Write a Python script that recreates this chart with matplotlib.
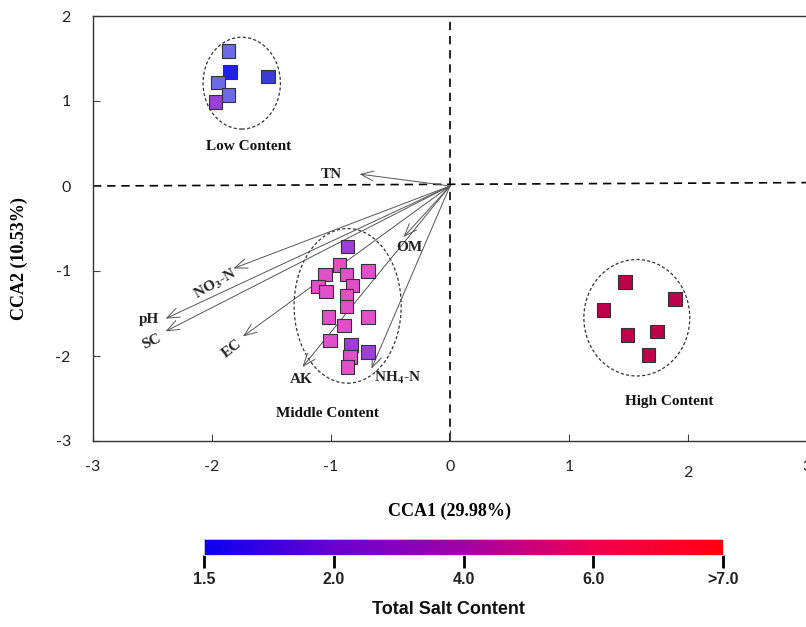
import numpy as np
import matplotlib
matplotlib.use('Agg')
import matplotlib.pyplot as plt
from matplotlib.patches import Ellipse
from matplotlib.colors import LinearSegmentedColormap, Normalize
from matplotlib.colorbar import ColorbarBase

plt.rcParams['mathtext.fontset'] = 'stix'
plt.rcParams['axes.unicode_minus'] = False  # 用普通连字符显示负号

# 样点得分 (CCA1, CCA2)
low_x = [-1.86, -1.85, -1.53, -1.95, -1.86, -1.97]
low_y = [1.59, 1.34, 1.29, 1.22, 1.07, 0.99]
low_colors = ['#6b6be8', '#1f1ff0', '#3c3cd8', '#6b6be8', '#6b6be8', '#9b3fd8']

mid_x = [-0.86, -0.93, -1.05, -0.69, -0.87, -1.11, -0.82, -1.04, -0.87,
         -0.87, -1.02, -0.69, -0.89, -1.01, -0.83, -0.69, -0.84, -0.86]
mid_y = [-0.71, -0.93, -1.04, -1.00, -1.04, -1.18, -1.17, -1.24, -1.29,
         -1.42, -1.54, -1.54, -1.64, -1.82, -1.87, -1.95, -2.01, -2.13]
mid_colors = ['#9b3fd8'] + ['#e050c8'] * 13 + ['#9b3fd8', '#9b3fd8', '#e050c8', '#e050c8']

high_x = [1.47, 1.89, 1.29, 1.74, 1.49, 1.67]
high_y = [-1.13, -1.33, -1.46, -1.71, -1.75, -1.99]
high_colors = ['#c0004a'] * 6

# 环境因子箭头
env_names = ['TN', r'NO$_\mathbf{3}$-N', 'pH', 'SC', 'EC', 'AK', 'OM', r'NH$_\mathbf{4}$-N']
env_x = [-0.76, -1.82, -2.39, -2.39, -1.74, -1.24, -0.39, -0.66]
env_y = [0.14, -0.97, -1.56, -1.71, -1.77, -2.13, -0.60, -2.15]
# 标签位置和旋转角度
lab_x = [-1.00, -1.97, -2.53, -2.51, -1.83, -1.25, -0.34, -0.44]
lab_y = [0.14, -1.16, -1.57, -1.83, -1.91, -2.28, -0.72, -2.26]
lab_rot = [0, 30, 0, 25, 38, 0, 0, 0]

# 分组椭圆 (中心x, 中心y, 宽, 高)
groups = ['Low Content', 'Middle Content', 'High Content']
ell_cx = [-1.75, -0.86, 1.57]
ell_cy = [1.21, -1.41, -1.55]
ell_w = [0.65, 0.90, 0.89]
ell_h = [1.08, 1.82, 1.37]
grp_lx = [-1.69, -1.03, 1.84]
grp_ly = [0.46, -2.68, -2.54]

# 色标
cbar_labels = ['1.5', '2.0', '4.0', '6.0', '>7.0']

fig = plt.figure(figsize=(8.06, 6.27), dpi=100)
ax = fig.add_axes([93 / 806, 186 / 627, 714 / 806, 425 / 627])
ax.set_xlim(-3, 3)
ax.set_ylim(-3, 2)

# 参考虚线
ax.plot([-3, 3], [0, 0.04], color='black', lw=1.2, dashes=(5, 3.5), zorder=1)
ax.plot([0, 0], [-3, 2], color='black', lw=1.2, dashes=(5, 3.5), zorder=1)

# 椭圆
for cx, cy, w, h in zip(ell_cx, ell_cy, ell_w, ell_h):
    ax.add_patch(Ellipse((cx, cy), w, h, fill=False, ec='#333333', lw=0.9,
                         ls=(0, (2.5, 1.8)), zorder=2))

# 箭头
for ex, ey in zip(env_x, env_y):
    ax.annotate('', xy=(ex, ey), xytext=(0, 0),
                arrowprops=dict(arrowstyle='->,head_length=0.9,head_width=0.35',
                                color='#555555', lw=0.7, shrinkA=0, shrinkB=0),
                zorder=3)
for name, lx, ly, r in zip(env_names, lab_x, lab_y, lab_rot):
    ax.text(lx, ly, name, fontsize=11, fontweight='bold', family='Liberation Serif',
            rotation=r, ha='center', va='center', color='#222222', zorder=5)

# 样点
ax.scatter(low_x, low_y, marker='s', s=95, c=low_colors, edgecolors='#333333', linewidths=0.8, zorder=4)
ax.scatter(mid_x, mid_y, marker='s', s=95, c=mid_colors, edgecolors='#333333', linewidths=0.8, zorder=4)
ax.scatter(high_x, high_y, marker='s', s=95, c=high_colors, edgecolors='#333333', linewidths=0.8, zorder=4)

for g, gx, gy in zip(groups, grp_lx, grp_ly):
    ax.text(gx, gy, g, fontsize=11, fontweight='bold', family='Liberation Serif',
            ha='center', va='center', color='#111111')

# 坐标轴
for s in ['left', 'bottom', 'top']:
    ax.spines[s].set_color('#333333')
    ax.spines[s].set_linewidth(1.0)
ax.spines['right'].set_visible(False)
ax.set_xticks([-3, -2, -1, 0, 1, 2, 3])
ax.set_yticks([-3, -2, -1, 0, 1, 2])
ax.tick_params(axis='both', direction='in', length=5, width=0.8, color='#444444',
               labelsize=11.5, labelcolor='#222222')
ax.tick_params(axis='x', pad=14)
ax.tick_params(axis='y', pad=16)
for lab in ax.get_xticklabels() + ax.get_yticklabels():
    lab.set_family('Lato')
xt = ax.xaxis.get_major_ticks()
xt[3].tick1line.set_markersize(8)
xt[5].set_pad(18)

ax.set_xlabel('CCA1 (29.98%)', fontsize=13, fontweight='bold', family='Liberation Serif', labelpad=16)
ax.set_ylabel('CCA2 (10.53%)', fontsize=13, fontweight='bold', family='Liberation Serif')
ax.yaxis.set_label_coords(-0.091, 0.43)

# 色标
cmap = LinearSegmentedColormap.from_list('salt', ['#0a00f0', '#6a00d0', '#a000a8', '#f00050', '#ff0010'])
cax = fig.add_axes([204 / 806, 72 / 627, 519 / 806, 16 / 627])
cb = ColorbarBase(cax, cmap=cmap, norm=Normalize(0, 4), orientation='horizontal')
cb.set_ticks(range(len(cbar_labels)))
cb.set_ticklabels(cbar_labels)
cb.outline.set_edgecolor('#dddddd')
cb.outline.set_linewidth(0.6)
cax.tick_params(length=9, width=2, color='black', pad=3, labelsize=11.5)
for lab in cax.get_xticklabels():
    lab.set_family('Liberation Sans')
    lab.set_fontweight('bold')
    lab.set_color('#222222')

fig.text(448 / 806, 1 - 610 / 627, 'Total Salt Content', fontsize=13, fontweight='bold',
         family='Liberation Sans', ha='center', va='center', color='#111111')

fig.savefig('out.png', dpi=100)
